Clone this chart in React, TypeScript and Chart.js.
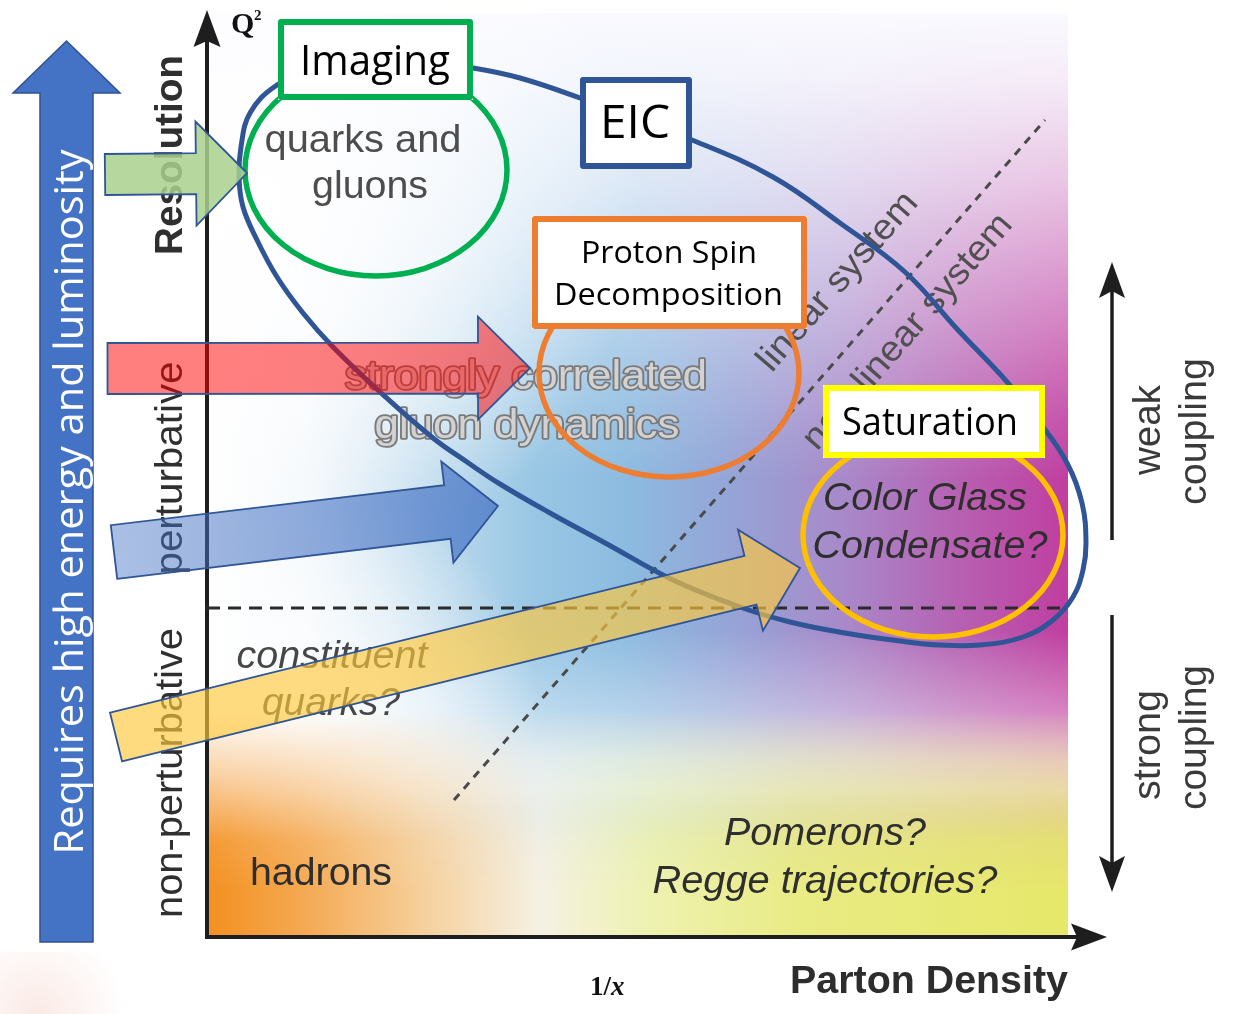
import React, { useEffect, useRef } from "react";
import { Chart, registerables } from "chart.js";
Chart.register(...registerables);

// Diagram coordinates: x = 1/x (parton density, arbitrary units), y = Q² (arbitrary units)
const X_MIN = -20.7, X_MAX = 102.8;
const Y_MIN = -7.7, Y_MAX = 93.7;
const DOMAIN_X_END = 86.1;
const DOMAIN_Y_END = 92.4;

// EIC reach contour
const eicContourX = [19.3, 26.6, 31.3, 37.3, 48.5, 56.6, 63.3, 69.8, 75.1, 80.1, 83.3, 86.0, 87.5, 87.9, 87.6, 86.6, 84.6, 81.6, 77.3, 73.3, 69.3, 63.8, 58.3, 53.3, 46.6, 40.0, 34.3, 29.3, 26.0, 22.6, 17.3, 12.6, 9.6, 7.0, 5.0, 3.6, 3.2, 3.4, 4.3, 7.0, 11.3, 19.3];
const eicContourY = [87.9, 86.9, 85.9, 83.9, 79.7, 76.0, 71.4, 66.5, 60.7, 55.4, 51.4, 47.4, 43.4, 39.4, 36.7, 34.0, 31.7, 30.0, 29.2, 29.2, 29.6, 30.4, 31.5, 33.0, 35.7, 39.3, 42.4, 45.3, 47.5, 49.9, 54.5, 59.0, 62.4, 66.0, 69.7, 73.0, 76.0, 79.0, 82.4, 85.2, 87.1, 87.9];

// perturbative / non-perturbative boundary
const pertBoundaryX = [0, 86.1];
const pertBoundaryY = [32.9, 32.9];

// linear / non-linear boundary
const linearBoundaryX = [24.7, 83.8];
const linearBoundaryY = [13.7, 81.7];

// Topic ellipses (Imaging, Proton Spin, Saturation)
const topicEllipseX = [16.9, 46.2, 72.6];
const topicEllipseY = [76.7, 56.4, 40.2];
const topicEllipseRx = [13.1, 13.0, 13.0];
const topicEllipseRy = [10.6, 10.4, 10.2];

// Label boxes (Imaging, EIC, Proton Spin, Saturation)
const boxCX = [16.85, 42.9, 46.25, 72.7];
const boxCY = [87.75, 81.4, 66.45, 51.55];
const boxW = [19.5, 11.2, 27.5, 22.2];
const boxH = [8.1, 9.2, 11.3, 7.3];
const boxTextLines = ["Imaging", "EIC", "Proton Spin", "Decomposition", "Saturation"];
const boxTextX = [16.8, 42.8, 46.2, 46.15, 72.3];
const boxTextY = [86.2, 79.9, 67.4, 63.2, 50.2];
const boxTextW = [15.0, 7.0, 17.6, 22.9, 17.6];

// Region labels inside the diagram
const regionLabels = ["quarks and", "gluons", "strongly correlated", "gluon dynamics", "constituent", "quarks?", "hadrons", "Pomerons?", "Regge trajectories?", "Color Glass", "Condensate?"];
const regionLabelX = [15.6, 16.3, 31.9, 32.0, 12.5, 12.4, 11.4, 61.8, 61.8, 71.8, 72.3];
const regionLabelY = [78.5, 73.9, 54.8, 49.9, 26.9, 22.2, 5.2, 9.2, 4.4, 42.7, 37.9];
const regionLabelW = [19.7, 11.6, 36.2, 30.5, 19.1, 13.8, 14.2, 20.2, 34.5, 20.4, 23.5];

// Diagonal labels
const diagLabels = ["linear system", "non-linear system"];
const diagLabelX = [63.1, 70.1];
const diagLabelY = [65.5, 60.5];
const diagLabelW = [22.5, 30.0];

// Left regime labels (vertical)
const regimeLabels = ["Resolution", "perturbative", "non-perturbative"];
const regimeLabelY = [78.2, 46.9, 16.4];
const regimeLabelW = [20.0, 21.3, 29.0];
const regimeBaselineX = -2.5;

// Right coupling labels (vertical)
const couplingLabels = ["weak", "coupling", "strong", "coupling"];
const couplingLabelX = [95.3, 99.9, 95.3, 99.9];
const couplingLabelY = [50.7, 50.55, 19.2, 19.95];
const couplingLabelW = [9.0, 14.7, 11.0, 14.5];

// Coupling arrows: [from, to] on y at x
const couplingArrowX = 90.5;
const couplingArrowFrom = [39.7, 32.2];
const couplingArrowTo = [67.5, 4.5];

// Topic arrows (green, red, blue, yellow)
const arrowTailX = [-10.2, -9.95, -9.3, -9.1];
const arrowTailY = [76.25, 56.85, 38.5, 20.0];
const arrowTipX = [4.0, 32.3, 29.1, 59.3];
const arrowTipY = [76.4, 56.9, 43.1, 36.9];
const arrowShaftHalf = [2.05, 2.55, 2.7, 2.5];
const arrowHeadHalf = [5.2, 5.15, 5.1, 5.2];
const arrowHeadLen = [5.1, 5.2, 5.1, 5.1];

// Energy / luminosity arrow
const energyArrowTail = [-14.05, -0.5];
const energyArrowTip = [-14.05, 89.6];
const energyArrowDims = [2.65, 5.35, 5.2];
const energyArrowText = "Requires high energy and luminosity";
const energyTextPos = [-12.4, 43.5, 70.5];

function txt(ctx: any, s: string, px: number, py: number, o: any) {
  ctx.save();
  ctx.translate(px, py);
  if (o.rot) ctx.rotate(o.rot);
  ctx.font = `${o.italic ? "italic " : ""}${o.bold ? "bold " : ""}${o.size}px ${o.family}`;
  ctx.textAlign = o.align || "center";
  ctx.textBaseline = o.baseline || "alphabetic";
  if (o.width) {
    const m = ctx.measureText(s).width;
    ctx.scale(o.width / m, 1);
  }
  if (o.blur) ctx.filter = `blur(${o.blur}px)`;
  if (o.stroke) {
    ctx.lineWidth = o.strokeWidth;
    ctx.strokeStyle = o.stroke;
    ctx.lineJoin = "round";
    ctx.strokeText(s, 0, 0);
  }
  ctx.fillStyle = o.color;
  ctx.fillText(s, 0, 0);
  ctx.restore();
}

function arrowPath(ctx: any, tx: number, ty: number, px: number, py: number, s: number, h: number, L: number) {
  const dx = px - tx, dy = py - ty;
  const len = Math.hypot(dx, dy);
  const ux = dx / len, uy = dy / len;
  const nx = -uy, ny = ux;
  const bx = px - ux * L, by = py - uy * L;
  ctx.beginPath();
  ctx.moveTo(tx + nx * s, ty + ny * s);
  ctx.lineTo(bx + nx * s, by + ny * s);
  ctx.lineTo(bx + nx * h, by + ny * h);
  ctx.lineTo(px, py);
  ctx.lineTo(bx - nx * h, by - ny * h);
  ctx.lineTo(bx - nx * s, by - ny * s);
  ctx.lineTo(tx - nx * s, ty - ny * s);
  ctx.closePath();
}

function drawUnder(chart: any) {
  const ctx = chart.ctx;
  const X = (v: number) => chart.scales.x.getPixelForValue(v);
  const Y = (v: number) => chart.scales.y.getPixelForValue(v);
  const u = X(1) - X(0);
  const L = X(0), R = X(DOMAIN_X_END), T = Y(DOMAIN_Y_END), B = Y(0);
  const W = R - L, H = B - T;
  const fy = (v: number) => (Y(v) - T) / H;
  const fx = (v: number) => (X(v) - L) / W;

  ctx.save();
  ctx.beginPath();
  ctx.rect(L, T, W, H);
  ctx.clip();
  // base horizontal gradient
  const hg = ctx.createLinearGradient(L, 0, R, 0);
  const hs: [number, string][] = [[0, "#ffffff"], [10, "#f2f7fb"], [22, "#c0dcee"], [33, "#98c6e4"], [42, "#8cbbe0"], [52, "#95a5d7"], [64.3, "#a987c8"], [75.3, "#b760b2"], [86.1, "#c03ea0"]];
  hs.forEach(([v, c]) => hg.addColorStop(fx(v), c));
  ctx.fillStyle = hg;
  ctx.fillRect(L, T, W, H);
  // top fade
  const tg = ctx.createLinearGradient(0, T, 0, B);
  const ts: [number, number][] = [[92.4, 1], [85.7, 0.92], [75.7, 0.72], [63.7, 0.42], [51.7, 0.12], [45.7, 0]];
  ts.forEach(([v, a]) => tg.addColorStop(fy(v), `rgba(250,250,255,${a})`));
  tg.addColorStop(1, "rgba(255,255,255,0)");
  ctx.fillStyle = tg;
  ctx.fillRect(L, T, W, H);
  // top-left white glow
  const rg = ctx.createRadialGradient(X(5.3), Y(73.7), 0, X(5.3), Y(73.7), 38 * u);
  rg.addColorStop(0, "rgba(255,255,255,0.95)");
  rg.addColorStop(0.5, "rgba(255,255,255,0.6)");
  rg.addColorStop(1, "rgba(255,255,255,0)");
  ctx.fillStyle = rg;
  ctx.fillRect(L, T, W, H);
  // lower-left white glow
  const lg = ctx.createRadialGradient(X(9.3), Y(21.7), 0, X(9.3), Y(21.7), 24 * u);
  lg.addColorStop(0, "rgba(255,255,255,0.85)");
  lg.addColorStop(0.55, "rgba(255,255,255,0.5)");
  lg.addColorStop(1, "rgba(255,255,255,0)");
  ctx.fillStyle = lg;
  ctx.fillRect(L, T, W, H);
  // white band above bottom
  const wg = ctx.createLinearGradient(0, T, 0, B);
  const ws: [number, number][] = [[30.7, 0], [22.7, 0.35], [17.7, 0.65], [14.7, 0.72], [9.7, 0.4], [0, 0.1]];
  wg.addColorStop(0, "rgba(255,255,255,0)");
  ws.forEach(([v, a]) => wg.addColorStop(fy(v), `rgba(255,255,255,${a})`));
  ctx.fillStyle = wg;
  ctx.fillRect(L, T, W, H);
  // bottom orange->yellow band
  const off = document.createElement("canvas");
  off.width = Math.ceil(W);
  off.height = Math.ceil(H);
  const o = off.getContext("2d") as any;
  const bg = o.createLinearGradient(0, 0, W, 0);
  const bs: [number, string][] = [[0, "#f39020"], [9.3, "#f4a850"], [21.3, "#f6cf9a"], [33.3, "#f5f1e3"], [44.3, "#eef2b0"], [59.3, "#e9eb84"], [86.1, "#e6e86a"]];
  bs.forEach(([v, c]) => bg.addColorStop(fx(v), c));
  o.fillStyle = bg;
  o.fillRect(0, 0, W, H);
  o.globalCompositeOperation = "destination-in";
  const mg = o.createLinearGradient(0, 0, 0, H);
  mg.addColorStop(0, "rgba(0,0,0,0)");
  const ms: [number, number][] = [[22.7, 0], [15.7, 0.45], [9.7, 0.9], [4.7, 1], [0, 1]];
  ms.forEach(([v, a]) => mg.addColorStop(fy(v), `rgba(0,0,0,${a})`));
  o.fillStyle = mg;
  o.fillRect(0, 0, W, H);
  ctx.drawImage(off, L, T);
  ctx.restore();

  // faint glow bottom-left corner
  const cg = ctx.createRadialGradient(X(-17), Y(-7.7), 0, X(-17), Y(-7.7), 9 * u);
  cg.addColorStop(0, "rgba(240,185,170,0.3)");
  cg.addColorStop(1, "rgba(240,185,170,0)");
  ctx.fillStyle = cg;
  ctx.fillRect(X(-20.7), Y(-1.5), 12 * u, 7 * u);

  // axes
  ctx.save();
  ctx.strokeStyle = "#1e1e1e";
  ctx.fillStyle = "#1e1e1e";
  ctx.lineWidth = 4;
  ctx.lineCap = "square";
  ctx.beginPath();
  ctx.moveTo(X(0), Y(0));
  ctx.lineTo(X(0), Y(89.5));
  ctx.moveTo(X(0), Y(0));
  ctx.lineTo(X(87), Y(0));
  ctx.stroke();
  ctx.beginPath();
  ctx.moveTo(X(0), Y(92.7));
  ctx.lineTo(X(1.35), Y(89.0));
  ctx.lineTo(X(0), Y(89.6));
  ctx.lineTo(X(-1.35), Y(89.0));
  ctx.closePath();
  ctx.fill();
  ctx.beginPath();
  ctx.moveTo(X(90.0), Y(0));
  ctx.lineTo(X(86.4), Y(1.35));
  ctx.lineTo(X(87.0), Y(0));
  ctx.lineTo(X(86.4), Y(-1.35));
  ctx.closePath();
  ctx.fill();
  // coupling arrows
  ctx.lineWidth = 3.5;
  ctx.lineCap = "butt";
  couplingArrowFrom.forEach((f, i) => {
    const t = couplingArrowTo[i];
    const dir = t > f ? 1 : -1;
    ctx.beginPath();
    ctx.moveTo(X(couplingArrowX), Y(f));
    ctx.lineTo(X(couplingArrowX), Y(t - dir * 2.5));
    ctx.stroke();
    ctx.beginPath();
    ctx.moveTo(X(couplingArrowX), Y(t));
    ctx.lineTo(X(couplingArrowX + 1.3), Y(t - dir * 3.6));
    ctx.lineTo(X(couplingArrowX), Y(t - dir * 2.9));
    ctx.lineTo(X(couplingArrowX - 1.3), Y(t - dir * 3.6));
    ctx.closePath();
    ctx.fill();
  });
  ctx.restore();

  // Q², 1/x
  txt(ctx, "Q", X(2.4), Y(90.4), { size: 30, bold: true, family: "'Liberation Serif', serif", color: "#111", align: "left" });
  txt(ctx, "2", X(4.7), Y(91.7), { size: 15, bold: true, family: "'Liberation Serif', serif", color: "#111", align: "left" });
  txt(ctx, "1/", X(38.3), Y(-5.8), { size: 27, bold: true, family: "'Liberation Serif', serif", color: "#111", align: "left" });
  txt(ctx, "x", X(40.4), Y(-5.8), { size: 27, bold: true, italic: true, family: "'Liberation Serif', serif", color: "#111", align: "left" });
  txt(ctx, "Parton Density", X(72.2), Y(-5.6), { size: 39, bold: true, family: "'Liberation Sans', Arial", color: "#2d2d2d", width: 27.8 * u, blur: 0.6 });

  // left regime labels
  regimeLabels.forEach((s, i) => {
    txt(ctx, s, X(regimeBaselineX), Y(regimeLabelY[i]), { size: 38, bold: i === 0, family: "'Liberation Sans', Arial", color: "#2f2f2f", width: regimeLabelW[i] * u, rot: -Math.PI / 2, blur: 0.6 });
  });
  // right coupling labels
  couplingLabels.forEach((s, i) => {
    txt(ctx, s, X(couplingLabelX[i]), Y(couplingLabelY[i]), { size: 38, family: "'Liberation Sans', Arial", color: "#3a3a3a", width: couplingLabelW[i] * u, rot: -Math.PI / 2, blur: 0.6 });
  });

  // region labels
  regionLabels.forEach((s, i) => {
    const italic = i >= 4 && i !== 6;
    const emboss = i === 2 || i === 3;
    const col = i <= 1 ? "#4d4d4d" : i === 4 || i === 5 ? "#474747" : "#2e2e2e";
    if (emboss) {
      txt(ctx, s, X(regionLabelX[i]), Y(regionLabelY[i]), { size: 40, family: "'Liberation Sans', Arial", color: "#d2d2d2", stroke: "#7a7a7a", strokeWidth: 3.5, width: regionLabelW[i] * u, blur: 0.6 });
    } else {
      txt(ctx, s, X(regionLabelX[i]), Y(regionLabelY[i]), { size: 39, italic, family: "'Liberation Sans', Arial", color: col, width: regionLabelW[i] * u, blur: 0.7 });
    }
  });
  // diagonal labels
  const ang = Math.atan2(Y(linearBoundaryY[1]) - Y(linearBoundaryY[0]), X(linearBoundaryX[1]) - X(linearBoundaryX[0]));
  diagLabels.forEach((s, i) => {
    txt(ctx, s, X(diagLabelX[i]), Y(diagLabelY[i]), { size: 36, family: "'Liberation Sans', Arial", color: "#505050", width: diagLabelW[i] * u, rot: ang, baseline: "middle", blur: 0.7 });
  });
}

function drawOver(chart: any) {
  const ctx = chart.ctx;
  const X = (v: number) => chart.scales.x.getPixelForValue(v);
  const Y = (v: number) => chart.scales.y.getPixelForValue(v);
  const u = X(1) - X(0);

  // topic ellipses
  const ellCols = ["#00b050", "#ed7d31", "#ffc000"];
  topicEllipseX.forEach((cx, i) => {
    ctx.save();
    ctx.strokeStyle = ellCols[i];
    ctx.lineWidth = 5.5;
    ctx.beginPath();
    ctx.ellipse(X(cx), Y(topicEllipseY[i]), topicEllipseRx[i] * u, topicEllipseRy[i] * u, 0, 0, Math.PI * 2);
    ctx.stroke();
    ctx.restore();
  });

  // boxes
  const boxCols = ["#00b050", "#2f5597", "#ed7d31", "#ffff00"];
  boxCX.forEach((cx, i) => {
    const l = X(cx - boxW[i] / 2), t = Y(boxCY[i] + boxH[i] / 2);
    const w = boxW[i] * u, h = boxH[i] * u;
    ctx.save();
    ctx.fillStyle = "#ffffff";
    ctx.fillRect(l, t, w, h);
    ctx.strokeStyle = boxCols[i];
    ctx.lineWidth = 6;
    ctx.lineJoin = "round";
    ctx.strokeRect(l + 3, t + 3, w - 6, h - 6);
    ctx.restore();
  });
  const boxSizes = [42, 46, 31, 31, 38];
  boxTextLines.forEach((s, i) => {
    txt(ctx, s, X(boxTextX[i]), Y(boxTextY[i]), { size: boxSizes[i], family: "'Open Sans', 'Noto Sans', sans-serif", color: "#000", width: boxTextW[i] * u });
  });

  // energy arrow
  ctx.save();
  arrowPath(ctx, X(energyArrowTail[0]), Y(energyArrowTail[1]), X(energyArrowTip[0]), Y(energyArrowTip[1]), energyArrowDims[0] * u, energyArrowDims[1] * u, energyArrowDims[2] * u);
  ctx.fillStyle = "#4472c4";
  ctx.fill();
  ctx.strokeStyle = "#2f528f";
  ctx.lineWidth = 1.5;
  ctx.stroke();
  ctx.restore();
  txt(ctx, energyArrowText, X(energyTextPos[0]), Y(energyTextPos[1]), { size: 40, family: "'Open Sans', 'Noto Sans', sans-serif", color: "#ffffff", width: energyTextPos[2] * u, rot: -Math.PI / 2 });

  // topic arrows
  arrowTailX.forEach((tx, i) => {
    const x0 = X(tx), y0 = Y(arrowTailY[i]), x1 = X(arrowTipX[i]), y1 = Y(arrowTipY[i]);
    ctx.save();
    arrowPath(ctx, x0, y0, x1, y1, arrowShaftHalf[i] * u, arrowHeadHalf[i] * u, arrowHeadLen[i] * u);
    if (i === 0) ctx.fillStyle = "rgba(169,209,142,0.85)";
    else if (i === 1) ctx.fillStyle = "rgba(255,0,0,0.5)";
    else if (i === 2) {
      const g = ctx.createLinearGradient(x0, y0, x1, y1);
      g.addColorStop(0, "rgba(68,114,196,0.45)");
      g.addColorStop(1, "rgba(68,114,196,0.72)");
      ctx.fillStyle = g;
    } else ctx.fillStyle = "rgba(255,200,60,0.65)";
    ctx.fill();
    ctx.strokeStyle = "#2f5597";
    ctx.lineWidth = 1.8;
    ctx.stroke();
    ctx.restore();
  });
}

const diagramPlugin = {
  id: "diagram",
  beforeDatasetsDraw(chart: any) {
    drawUnder(chart);
  },
  afterDatasetsDraw(chart: any) {
    drawOver(chart);
  },
};

export default function App() {
  const ref = useRef<HTMLCanvasElement | null>(null);
  useEffect(() => {
    if (!ref.current) return;
    const toPts = (xs: number[], ys: number[]) => xs.map((x, i) => ({ x, y: ys[i] }));
    const chart = new Chart(ref.current, {
      type: "scatter",
      data: {
        datasets: [
          {
            data: toPts(eicContourX, eicContourY),
            showLine: true,
            tension: 0.4,
            borderColor: "#2f5597",
            borderWidth: 5,
            borderJoinStyle: "round",
            pointRadius: 0,
            fill: false,
            order: 0,
          } as any,
          {
            data: toPts(pertBoundaryX, pertBoundaryY),
            showLine: true,
            borderColor: "#2b2b2b",
            borderWidth: 3,
            borderDash: [13, 8],
            pointRadius: 0,
            fill: false,
            order: 1,
          } as any,
          {
            data: toPts(linearBoundaryX, linearBoundaryY),
            showLine: true,
            borderColor: "#4a4a4a",
            borderWidth: 3,
            borderDash: [8, 7],
            pointRadius: 0,
            fill: false,
            order: 2,
          } as any,
        ],
      },
      options: {
        animation: false,
        responsive: false,
        events: [],
        layout: { padding: 0 },
        scales: {
          x: { type: "linear", min: X_MIN, max: X_MAX, display: false },
          y: { type: "linear", min: Y_MIN, max: Y_MAX, display: false },
        },
        plugins: { legend: { display: false }, tooltip: { enabled: false } },
      },
      plugins: [diagramPlugin],
    } as any);
    return () => chart.destroy();
  }, []);
  return (
    <div style={{ position: "absolute", left: 0, top: 0, width: 1235, height: 1014, background: "#fff" }}>
      <canvas ref={ref} width={1235} height={1014} style={{ display: "block" }} />
    </div>
  );
}
